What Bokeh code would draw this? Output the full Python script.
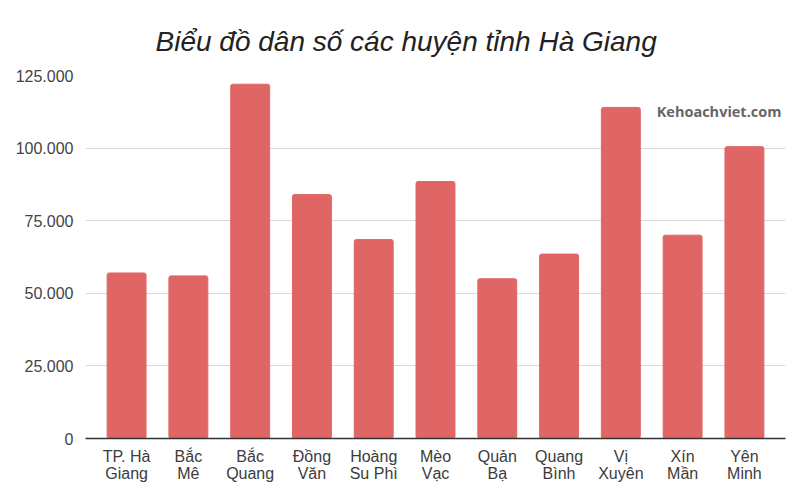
from bokeh.plotting import figure
from bokeh.models import FactorRange, Range1d, FixedTicker, Label
from bokeh.embed import file_html
from bokeh.resources import INLINE

# Population of the districts of Hà Giang province
districts = ["TP. Hà\nGiang", "Bắc\nMê", "Bắc\nQuang", "Đồng\nVăn", "Hoàng\nSu Phì",
             "Mèo\nVạc", "Quản\nBạ", "Quang\nBình", "Vị\nXuyên", "Xín\nMần", "Yên\nMinh"]
population = [57000, 56000, 122000, 84000, 68500, 88500, 55000, 63500, 114000, 70000, 100500]

y_ticks = [0, 25000, 50000, 75000, 100000, 125000]
y_tick_labels = ["0", "25.000", "50.000", "75.000", "100.000", "125.000"]

p = figure(
    width=800, height=500,
    x_range=FactorRange(*districts, range_padding=0.03),
    y_range=Range1d(0, 125000),
    output_backend="svg", toolbar_location=None,
    min_border_left=85, min_border_right=15, min_border_top=75, min_border_bottom=62,
    background_fill_color="white", border_fill_color="white",
)
p.outline_line_color = None

p.title.text = "Biểu đồ dân số các huyện tỉnh Hà Giang"
p.title.text_font = "Liberation Sans"
p.title.text_font_style = "italic"
p.title.text_font_size = "28px"
p.title.text_color = "#222222"
p.title.align = "left"
p.title.offset = 70
p.title.standoff = 38

p.vbar(x=districts, top=population, width=0.63, color="#e06666", border_radius=2)

# y axis
p.yaxis.ticker = FixedTicker(ticks=y_ticks)
p.yaxis.major_label_overrides = dict(zip(y_ticks, y_tick_labels))
p.yaxis.axis_line_color = None
p.yaxis.major_tick_line_color = None
p.yaxis.minor_tick_line_color = None
p.yaxis.major_label_text_font = "Liberation Sans"
p.yaxis.major_label_text_font_size = "16px"
p.yaxis.major_label_text_color = "#444444"
p.yaxis.major_label_standoff = 6

# x axis
p.xaxis.axis_line_color = "#333333"
p.xaxis.axis_line_width = 1.5
p.xaxis.major_tick_line_color = None
p.xaxis.minor_tick_line_color = None
p.xaxis.major_label_text_font = "Liberation Sans"
p.xaxis.major_label_text_font_size = "16px"
p.xaxis.major_label_text_color = "#3c3c3c"
p.xaxis.major_label_text_line_height = 1.05
p.xaxis.major_label_standoff = 3

p.xgrid.grid_line_color = None
p.ygrid.grid_line_color = "#d9d9d9"
p.ygrid.ticker = FixedTicker(ticks=y_ticks)

p.add_layout(Label(x=9.08, y=112600, text="Kehoachviet.com", text_font="Open Sans",
                   text_font_style="bold", text_font_size="14.5px", text_color="#666666",
                   text_baseline="middle"))

open("out.html", "w").write(file_html(p, INLINE))
